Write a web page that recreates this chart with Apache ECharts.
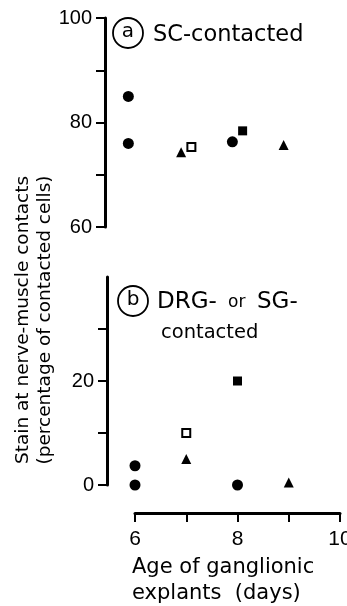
<!DOCTYPE html>
<html>
<head>
<meta charset="utf-8">
<script src="https://cdn.jsdelivr.net/npm/echarts@6/dist/echarts.min.js"></script>
<style>
html,body{margin:0;padding:0;background:#fff;}
#chart{width:347px;height:606px;}
</style>
</head>
<body>
<div id="chart"></div>
<script>
// ---- data ----
const xTickValues = [6, 7, 8, 9, 10];
const xLabelValues = [6, 8, 10];
const topYTicks = [60, 70, 80, 90, 100];
const topYLabels = [60, 80, 100];
const botYTicks = [0, 10, 20, 30];
const botYLabels = [0, 20];

// panel (a) SC-contacted
const aCircles = [[5.87, 85], [5.87, 76], [7.9, 76.3]];
const aTriangles = [[6.9, 74.3], [8.9, 75.7]];
const aOpenSquares = [[7.1, 75.3]];
const aFilledSquares = [[8.1, 78.4]];

// panel (b) DRG- or SG-contacted
const bCircles = [[6, 3.7], [6, 0], [8, 0]];
const bTriangles = [[7, 5], [9, 0.5]];
const bOpenSquares = [[7, 10]];
const bFilledSquares = [[8, 20]];

const FONT = '"DejaVu Sans", sans-serif';
const NUMFONT = '"Liberation Sans", Arial, sans-serif';
const INK = '#000';

const chart = echarts.init(document.getElementById('chart'), null, {renderer: 'canvas'});

function yAx(grid, min, max, ticks, labels, offset) {
  return {
    type: 'value', gridIndex: grid, min: min, max: max, interval: 10,
    position: 'left', offset: offset,
    axisLine: {show: true, onZero: false, lineStyle: {color: INK, width: 3}},
    axisTick: {show: true, length: 9, lineStyle: {color: INK, width: 2}, customValues: ticks},
    axisLabel: {show: true, customValues: labels, color: INK, fontFamily: NUMFONT, fontSize: 20, margin: 13},
    splitLine: {show: false}
  };
}

function sc(name, data, xi, yi, symbol, size, open) {
  return {
    type: 'scatter', name: name, xAxisIndex: xi, yAxisIndex: yi, data: data,
    symbol: symbol, symbolSize: size, clip: false,
    itemStyle: open ? {color: '#fff', borderColor: INK, borderWidth: 2, opacity: 1} : {color: INK, opacity: 1},
    emphasis: {disabled: true}
  };
}

function txt(x, y, s, size) {
  return {type: 'text', x: x, y: y, style: {text: s, font: size + 'px ' + FONT, fill: INK, textAlign: 'left', textVerticalAlign: 'middle'}};
}

const option = {
  backgroundColor: '#fff',
  animation: false,
  grid: [
    {left: 135, width: 205, top: 18, height: 209, outerBoundsMode: 'none', containLabel: false},
    {left: 135, width: 205, top: 277, height: 208, outerBoundsMode: 'none', containLabel: false}
  ],
  xAxis: [
    {type: 'value', gridIndex: 0, min: 6, max: 10, show: false},
    {
      type: 'value', gridIndex: 1, min: 6, max: 10, interval: 1,
      position: 'bottom', offset: 28,
      axisLine: {show: true, onZero: false, lineStyle: {color: INK, width: 3}},
      axisTick: {show: true, length: 9, lineStyle: {color: INK, width: 2}, customValues: xTickValues},
      axisLabel: {show: true, customValues: xLabelValues, color: INK, fontFamily: NUMFONT, fontSize: 21, margin: 16},
      splitLine: {show: false}
    }
  ],
  yAxis: [
    yAx(0, 60, 100, topYTicks, topYLabels, 30),
    yAx(1, 0, 40, botYTicks, botYLabels, 28)
  ],
  series: [
    sc('a-circle', aCircles, 0, 0, 'circle', 11, false),
    sc('a-triangle', aTriangles, 0, 0, 'triangle', 10, false),
    sc('a-open', aOpenSquares, 0, 0, 'rect', 8, true),
    sc('a-filled', aFilledSquares, 0, 0, 'rect', 9, false),
    sc('b-circle', bCircles, 1, 1, 'circle', 11, false),
    sc('b-triangle', bTriangles, 1, 1, 'triangle', 10, false),
    sc('b-open', bOpenSquares, 1, 1, 'rect', 8, true),
    sc('b-filled', bFilledSquares, 1, 1, 'rect', 9, false)
  ],
  graphic: [
    // panel (a) label
    {type: 'circle', shape: {cx: 128, cy: 33, r: 15}, style: {fill: 'none', stroke: INK, lineWidth: 1.8}},
    {type: 'text', x: 128, y: 32, style: {text: 'a', font: '20px ' + FONT, fill: INK, textAlign: 'center', textVerticalAlign: 'middle'}},
    txt(153, 35, 'SC-contacted', 22.5),

    // panel (b) label
    {type: 'circle', shape: {cx: 133, cy: 301, r: 15}, style: {fill: 'none', stroke: INK, lineWidth: 1.8}},
    {type: 'text', x: 133, y: 300, style: {text: 'b', font: '20px ' + FONT, fill: INK, textAlign: 'center', textVerticalAlign: 'middle'}},
    txt(157, 302, 'DRG-', 23),
    txt(228, 303, 'or', 17),
    txt(257, 302, 'SG-', 23),
    txt(161, 333, 'contacted', 19.5),

    // y-axis title
    {type: 'text', x: 23, y: 320, rotation: Math.PI / 2, style: {text: 'Stain at nerve-muscle contacts', font: '18.5px ' + FONT, fill: INK, textAlign: 'center', textVerticalAlign: 'middle'}},
    {type: 'text', x: 45, y: 320, rotation: Math.PI / 2, style: {text: '(percentage of contacted cells)', font: '18.5px ' + FONT, fill: INK, textAlign: 'center', textVerticalAlign: 'middle'}},

    // x-axis title
    txt(132, 568, 'Age of ganglionic', 21),
    txt(132, 594, 'explants  (days)', 21)
  ]
};

chart.setOption(option);
</script>
</body>
</html>
